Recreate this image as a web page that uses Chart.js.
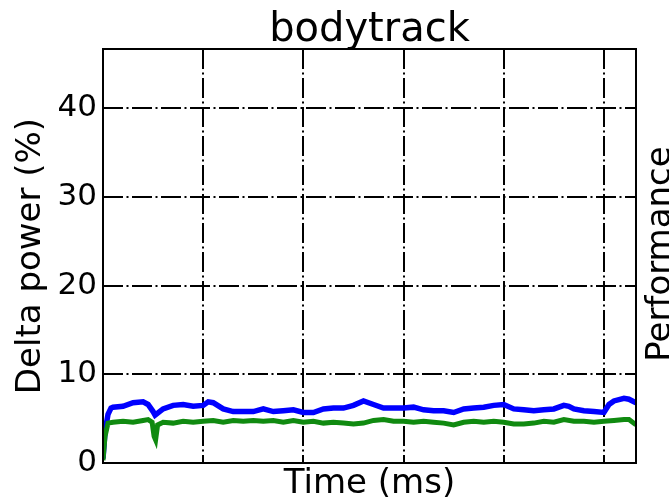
<!DOCTYPE html>
<html><head><meta charset="utf-8">
<script src="https://cdn.jsdelivr.net/npm/chart.js@4"></script>
<style>html,body{margin:0;padding:0;background:#fff}#wrap{width:669px;height:501px}</style>
</head><body><div id="wrap"><canvas id="c" width="669" height="501"></canvas></div>
<script>
const chartTitle = 'bodytrack';
const xLabel = 'Time (ms)';
const yLabel = 'Delta power (%)';
const y2Label = 'Performance';
const yTicks = [0, 10, 20, 30, 40];
const xGridTicks = [1000, 2000, 3000, 4000, 5000];
const xMin = 0, xMax = 5320, yMin = 0, yMax = 46.7;

const blueTime = [0,20,50,80,100,200,300,400,450,500,520,600,700,800,900,1000,1050,1100,1200,1300,1400,1500,1600,1700,1800,1900,2000,2100,2200,2300,2400,2500,2600,2700,2800,2900,3000,3100,3200,3300,3400,3500,3600,3700,3800,3900,4000,4100,4200,4300,4400,4500,4600,4650,4700,4800,4900,5000,5050,5100,5200,5250,5320];
const blueValues = [0.5,3.5,5.5,6.2,6.3,6.4,6.8,6.9,6.6,5.8,5.4,6.1,6.5,6.6,6.4,6.5,6.9,6.8,6.1,5.8,5.8,5.8,6.1,5.8,5.9,6.0,5.7,5.7,6.1,6.2,6.2,6.5,7.0,6.6,6.2,6.2,6.2,6.3,6.0,5.9,5.9,5.7,6.1,6.2,6.3,6.5,6.6,6.1,6.0,5.9,6.0,6.1,6.5,6.4,6.1,5.9,5.8,5.7,6.6,7.0,7.3,7.2,6.8];

const greenTime = [0,20,50,100,200,300,400,450,490,510,525,545,600,700,800,900,1000,1100,1200,1300,1400,1500,1600,1700,1800,1900,2000,2100,2200,2300,2400,2500,2600,2700,2800,2900,3000,3100,3200,3300,3400,3500,3600,3700,3800,3900,4000,4100,4200,4300,4400,4500,4600,4700,4800,4900,5000,5100,5200,5250,5320];
const greenValues = [0.3,3.0,4.5,4.6,4.7,4.6,4.8,4.9,4.6,3.0,2.6,4.3,4.6,4.5,4.7,4.6,4.7,4.8,4.6,4.8,4.7,4.8,4.7,4.8,4.6,4.8,4.6,4.7,4.5,4.6,4.5,4.4,4.5,4.8,4.9,4.7,4.7,4.6,4.7,4.6,4.5,4.3,4.6,4.7,4.6,4.7,4.6,4.4,4.4,4.5,4.7,4.6,4.9,4.7,4.7,4.6,4.7,4.8,4.9,4.9,4.3];

const FONT = 'DejaVu Sans';
const gridDash = [20, 3.5, 2, 3.5];

const framePlugin = {
  id: 'frame',
  afterDatasetsDraw(chart) {
    const {ctx, chartArea: a} = chart;
    ctx.save();
    ctx.strokeStyle = '#000';
    ctx.lineWidth = 2;
    ctx.strokeRect(a.left, a.top, a.right - a.left, a.bottom - a.top);
    ctx.restore();
  },
  afterDraw(chart) {
    const {ctx, chartArea: a} = chart;
    ctx.save();
    ctx.font = '34px "' + FONT + '"';
    ctx.fillStyle = '#000';
    ctx.textAlign = 'center';
    ctx.textBaseline = 'alphabetic';
    ctx.translate(670, (a.top + a.bottom) / 2 - 2);
    ctx.rotate(-Math.PI / 2);
    ctx.fillText(y2Label, 0, 0);
    ctx.restore();
  }
};

new Chart(document.getElementById('c'), {
  type: 'line',
  data: {
    datasets: [
      {label: 'green', data: greenTime.map((t, i) => ({x: t, y: greenValues[i]})), borderColor: '#108a10', borderWidth: 5, pointRadius: 0, tension: 0, order: 0},
      {label: 'blue', data: blueTime.map((t, i) => ({x: t, y: blueValues[i]})), borderColor: '#0000ff', borderWidth: 5.5, pointRadius: 0, tension: 0, order: 1}
    ]
  },
  options: {
    responsive: false,
    animation: false,
    devicePixelRatio: 1,
    layout: {padding: {left: 0, right: 33, top: 0, bottom: 0}},
    plugins: {
      legend: {display: false},
      tooltip: {enabled: false},
      title: {display: true, fullSize: false, text: chartTitle, color: '#000', font: {family: FONT, size: 40, weight: 'normal', lineHeight: 0.85}, padding: {top: 14, bottom: 1}}
    },
    scales: {
      x: {
        type: 'linear', min: xMin, max: xMax,
        afterBuildTicks: s => { s.ticks = xGridTicks.map(v => ({value: v})); },
        afterFit: s => { s.height = 38; },
        ticks: {display: false},
        grid: {color: '#000', lineWidth: 2, drawTicks: false},
        border: {display: false, dash: gridDash},
        title: {display: true, text: xLabel, color: '#000', font: {family: FONT, size: 34, lineHeight: 1}, padding: {top: 0, bottom: 0}}
      },
      y: {
        type: 'linear', min: yMin, max: yMax,
        afterBuildTicks: s => { s.ticks = yTicks.map(v => ({value: v})); },
        afterFit: s => { s.width = 103; },
        ticks: {color: '#000', font: {family: FONT, size: 31}, padding: 6},
        grid: {color: '#000', lineWidth: 2, drawTicks: false},
        border: {display: false, dash: gridDash},
        title: {display: true, text: yLabel, color: '#000', font: {family: FONT, size: 34, lineHeight: 1.2}, padding: {top: 11, bottom: 0}}
      }
    }
  },
  plugins: [framePlugin]
});
</script>
</body></html>
